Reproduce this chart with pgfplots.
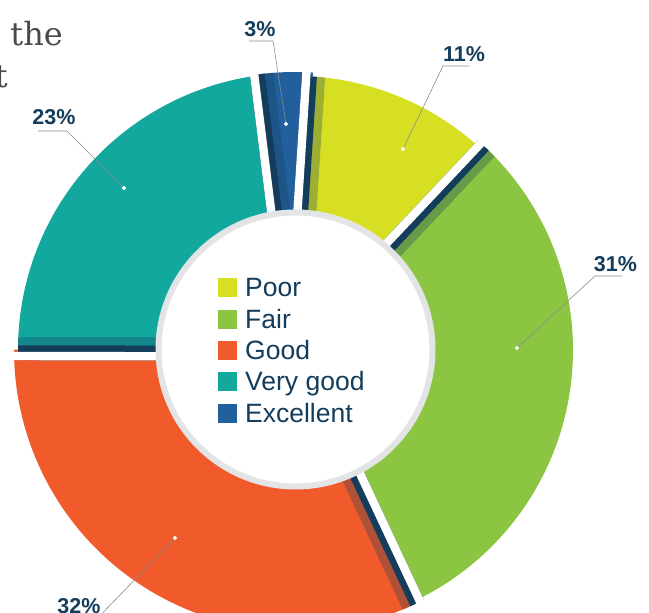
\documentclass[border=0pt]{standalone}
\usepackage{pgfplots}
\pgfplotsset{compat=1.18}
\usepackage{pgfplotstable}
\usepackage{fontspec}
\setmainfont{Liberation Sans}
\newfontfamily\titlefont{DejaVu Serif}
\definecolor{cpoor}{HTML}{D7DF23}
\definecolor{cfair}{HTML}{8CC541}
\definecolor{cgood}{HTML}{F15A2B}
\definecolor{cvg}{HTML}{13A89E}
\definecolor{cexc}{HTML}{21609C}
\definecolor{navy}{HTML}{143D5C}
\definecolor{ringgray}{HTML}{E3E4E6}
\definecolor{linegray}{HTML}{8C8C8C}
\definecolor{titlegray}{HTML}{4A4A4A}

\pgfplotstableread{
cat value radius
Poor 11 274
Fair 31 278
Good 32 281
VeryGood 23 277
Excellent 3 278
}\piedata

% slice: start angle, end angle, radius, colour
\newcommand\slice[4]{%
  \fill[#4] (axis cs:295,263) -- ++(#1:#3bp) arc[start angle=#1, end angle=#2, radius=#3bp] -- cycle;}
% edge at start of a slice: angle, radius of that slice
\newcommand\edgeband[2]{%
  \begin{scope}[shift={(axis cs:295,263)}, rotate=#1]
    \fill[navy, opacity=0.3] (0,-4bp) rectangle (#2bp,-12.5bp);
    \fill[navy] (0,-2.3bp) rectangle (#2bp,-4.2bp);
    \fill[white] (0,-2.3bp) rectangle (300bp,2.3bp);
  \end{scope}}
\newcommand\legrow[3]{% y of square bottom, colour, text
  \fill[#2] (axis cs:218,#1) rectangle (axis cs:237,#1+19);
  \node[anchor=base west, inner sep=0, text=navy, font=\fontsize{26.5bp}{30bp}\selectfont] at (axis cs:245,#1) {#3};}
\newcommand\pctlabel[3]{%
  \node[anchor=base, inner sep=0, text=navy, font=\fontsize{21.5bp}{24bp}\selectfont\bfseries] at (axis cs:#1,#2) {#3};}

\begin{document}
\begin{tikzpicture}
\pgfplotstablegetelem{0}{value}\of\piedata\let\vA\pgfplotsretval
\pgfplotstablegetelem{1}{value}\of\piedata\let\vB\pgfplotsretval
\pgfplotstablegetelem{2}{value}\of\piedata\let\vC\pgfplotsretval
\pgfplotstablegetelem{3}{value}\of\piedata\let\vD\pgfplotsretval
\pgfplotstablegetelem{4}{value}\of\piedata\let\vE\pgfplotsretval
\pgfplotstablegetelem{0}{radius}\of\piedata\let\rA\pgfplotsretval
\pgfplotstablegetelem{1}{radius}\of\piedata\let\rB\pgfplotsretval
\pgfplotstablegetelem{2}{radius}\of\piedata\let\rC\pgfplotsretval
\pgfplotstablegetelem{3}{radius}\of\piedata\let\rD\pgfplotsretval
\pgfplotstablegetelem{4}{radius}\of\piedata\let\rE\pgfplotsretval
\pgfmathsetmacro\bA{3.7}
\pgfmathsetmacro\bB{\bA+3.6*\vA}
\pgfmathsetmacro\bC{\bB+3.6*\vB}
\pgfmathsetmacro\bD{\bC+3.6*\vC}
\pgfmathsetmacro\bE{\bD+3.6*\vD}
\pgfmathsetmacro\bF{\bE+3.6*\vE}
\pgfmathsetmacro\tA{90-\bA}
\pgfmathsetmacro\tB{90-\bB}
\pgfmathsetmacro\tC{90-\bC}
\pgfmathsetmacro\tD{90-\bD}
\pgfmathsetmacro\tE{90-\bE}
\pgfmathsetmacro\tF{90-\bF}
\begin{axis}[at={(0,0)}, anchor=south west, scale only axis,
  width=649bp, height=613bp, xmin=0, xmax=649, ymin=0, ymax=613,
  hide axis, clip=true]
  % slices
  \slice{\tA}{\tB}{\rA}{cpoor}
  \slice{\tB}{\tC}{\rB}{cfair}
  \slice{\tC}{\tD}{\rC}{cgood}
  \slice{\tD}{\tE}{\rD}{cvg}
  \slice{\tE}{\tF}{\rE}{cexc}
  % edges
  \edgeband{\tA}{\rA}
  \edgeband{\tB}{\rB}
  \edgeband{\tC}{\rC}
  \edgeband{\tD}{\rD}
  \edgeband{\tE}{\rE}
  % inner circle
  \fill[white, draw=ringgray, line width=6bp] (axis cs:295.5,263.5) circle[radius=137bp];
  % legend
  \legrow{316}{cpoor}{Poor}
  \legrow{284}{cfair}{Fair}
  \legrow{253}{cgood}{Good}
  \legrow{222}{cvg}{Very good}
  \legrow{190}{cexc}{Excellent}
  % connectors
  \addplot[linegray, line width=0.6bp] coordinates {(249,572) (273,572) (286,489)};
  \addplot[linegray, line width=0.6bp] coordinates {(469,547) (443,547) (403,464)};
  \addplot[linegray, line width=0.6bp] coordinates {(622,337) (595,337) (517,265)};
  \addplot[linegray, line width=0.6bp] coordinates {(38,482) (67,482) (124,425)};
  \addplot[linegray, line width=0.6bp] coordinates {(62,-13) (90,-13) (175,75)};
  \addplot[only marks, mark=*, mark size=1.8bp, mark options={fill=white, draw=white}]
    coordinates {(286,489) (403,464) (517,265) (124,425) (175,75)};
  % labels
  \pctlabel{260}{576}{3\%}
  \pctlabel{464}{551}{11\%}
  \pctlabel{615.5}{341}{31\%}
  \pctlabel{54}{488}{23\%}
  \pctlabel{79}{0}{32\%}
  % cropped title
  \node[anchor=base east, inner sep=0, text=titlegray, font=\fontsize{32bp}{36bp}\titlefont] at (axis cs:63,567) {the};
  \node[anchor=base east, inner sep=0, text=titlegray, font=\fontsize{32bp}{36bp}\titlefont] at (axis cs:8,525) {t};
\end{axis}
\pgfresetboundingbox
\path[use as bounding box] (0,0) rectangle (649bp,613bp);
\end{tikzpicture}
\end{document}
